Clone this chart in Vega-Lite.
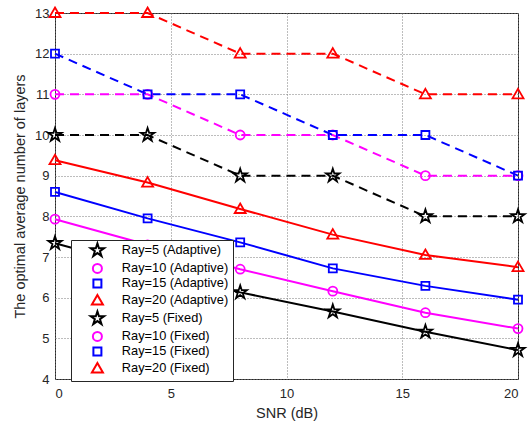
{
  "$schema": "https://vega.github.io/schema/vega-lite/v6.json",
  "width": 463,
  "height": 366,
  "autosize": "none",
  "padding": {"left": 55, "top": 13, "right": 11, "bottom": 47},
  "background": "white",
  "config": {
    "font": "Liberation Sans",
    "view": {"stroke": "#262626", "strokeWidth": 1},
    "axis": {
      "labelFont": "Liberation Sans",
      "titleFont": "Liberation Sans",
      "labelFontSize": 13,
      "titleFontSize": 14.5,
      "titleFontWeight": "normal",
      "labelColor": "#262626",
      "titleColor": "#262626",
      "domain": false,
      "grid": true,
      "gridColor": "#7a7a7a",
      "gridDash": [1, 2],
      "gridWidth": 1,
      "ticks": false
    }
  },
  "data": {
    "values": [
      {"snr": 0, "value": 7.34, "series": "Ray=5 (Adaptive)", "kind": "Adaptive"},
      {"snr": 4, "value": 6.72, "series": "Ray=5 (Adaptive)", "kind": "Adaptive"},
      {"snr": 8, "value": 6.13, "series": "Ray=5 (Adaptive)", "kind": "Adaptive"},
      {"snr": 12, "value": 5.66, "series": "Ray=5 (Adaptive)", "kind": "Adaptive"},
      {"snr": 16, "value": 5.16, "series": "Ray=5 (Adaptive)", "kind": "Adaptive"},
      {"snr": 20, "value": 4.71, "series": "Ray=5 (Adaptive)", "kind": "Adaptive"},
      {"snr": 0, "value": 7.93, "series": "Ray=10 (Adaptive)", "kind": "Adaptive"},
      {"snr": 4, "value": 7.3, "series": "Ray=10 (Adaptive)", "kind": "Adaptive"},
      {"snr": 8, "value": 6.7, "series": "Ray=10 (Adaptive)", "kind": "Adaptive"},
      {"snr": 12, "value": 6.16, "series": "Ray=10 (Adaptive)", "kind": "Adaptive"},
      {"snr": 16, "value": 5.63, "series": "Ray=10 (Adaptive)", "kind": "Adaptive"},
      {"snr": 20, "value": 5.24, "series": "Ray=10 (Adaptive)", "kind": "Adaptive"},
      {"snr": 0, "value": 8.6, "series": "Ray=15 (Adaptive)", "kind": "Adaptive"},
      {"snr": 4, "value": 7.95, "series": "Ray=15 (Adaptive)", "kind": "Adaptive"},
      {"snr": 8, "value": 7.36, "series": "Ray=15 (Adaptive)", "kind": "Adaptive"},
      {"snr": 12, "value": 6.72, "series": "Ray=15 (Adaptive)", "kind": "Adaptive"},
      {"snr": 16, "value": 6.29, "series": "Ray=15 (Adaptive)", "kind": "Adaptive"},
      {"snr": 20, "value": 5.95, "series": "Ray=15 (Adaptive)", "kind": "Adaptive"},
      {"snr": 0, "value": 9.38, "series": "Ray=20 (Adaptive)", "kind": "Adaptive"},
      {"snr": 4, "value": 8.83, "series": "Ray=20 (Adaptive)", "kind": "Adaptive"},
      {"snr": 8, "value": 8.18, "series": "Ray=20 (Adaptive)", "kind": "Adaptive"},
      {"snr": 12, "value": 7.55, "series": "Ray=20 (Adaptive)", "kind": "Adaptive"},
      {"snr": 16, "value": 7.05, "series": "Ray=20 (Adaptive)", "kind": "Adaptive"},
      {"snr": 20, "value": 6.75, "series": "Ray=20 (Adaptive)", "kind": "Adaptive"},
      {"snr": 0, "value": 10, "series": "Ray=5 (Fixed)", "kind": "Fixed"},
      {"snr": 4, "value": 10, "series": "Ray=5 (Fixed)", "kind": "Fixed"},
      {"snr": 8, "value": 9, "series": "Ray=5 (Fixed)", "kind": "Fixed"},
      {"snr": 12, "value": 9, "series": "Ray=5 (Fixed)", "kind": "Fixed"},
      {"snr": 16, "value": 8, "series": "Ray=5 (Fixed)", "kind": "Fixed"},
      {"snr": 20, "value": 8, "series": "Ray=5 (Fixed)", "kind": "Fixed"},
      {"snr": 0, "value": 11, "series": "Ray=10 (Fixed)", "kind": "Fixed"},
      {"snr": 4, "value": 11, "series": "Ray=10 (Fixed)", "kind": "Fixed"},
      {"snr": 8, "value": 10, "series": "Ray=10 (Fixed)", "kind": "Fixed"},
      {"snr": 12, "value": 10, "series": "Ray=10 (Fixed)", "kind": "Fixed"},
      {"snr": 16, "value": 9, "series": "Ray=10 (Fixed)", "kind": "Fixed"},
      {"snr": 20, "value": 9, "series": "Ray=10 (Fixed)", "kind": "Fixed"},
      {"snr": 0, "value": 12, "series": "Ray=15 (Fixed)", "kind": "Fixed"},
      {"snr": 4, "value": 11, "series": "Ray=15 (Fixed)", "kind": "Fixed"},
      {"snr": 8, "value": 11, "series": "Ray=15 (Fixed)", "kind": "Fixed"},
      {"snr": 12, "value": 10, "series": "Ray=15 (Fixed)", "kind": "Fixed"},
      {"snr": 16, "value": 10, "series": "Ray=15 (Fixed)", "kind": "Fixed"},
      {"snr": 20, "value": 9, "series": "Ray=15 (Fixed)", "kind": "Fixed"},
      {"snr": 0, "value": 13, "series": "Ray=20 (Fixed)", "kind": "Fixed"},
      {"snr": 4, "value": 13, "series": "Ray=20 (Fixed)", "kind": "Fixed"},
      {"snr": 8, "value": 12, "series": "Ray=20 (Fixed)", "kind": "Fixed"},
      {"snr": 12, "value": 12, "series": "Ray=20 (Fixed)", "kind": "Fixed"},
      {"snr": 16, "value": 11, "series": "Ray=20 (Fixed)", "kind": "Fixed"},
      {"snr": 20, "value": 11, "series": "Ray=20 (Fixed)", "kind": "Fixed"}
    ]
  },
  "encoding": {
    "x": {
      "field": "snr",
      "type": "quantitative",
      "scale": {"domain": [0, 20], "nice": false},
      "axis": {"values": [0, 5, 10, 15, 20], "title": "SNR (dB)", "labelPadding": 8, "titlePadding": 6}
    },
    "y": {
      "field": "value",
      "type": "quantitative",
      "scale": {"domain": [4, 13], "nice": false, "zero": false},
      "axis": {"values": [4, 5, 6, 7, 8, 9, 10, 11, 12, 13], "title": "The optimal average number of layers", "labelPadding": 6, "titlePadding": 7}
    },
    "color": {
      "field": "series",
      "type": "nominal",
      "scale": {
        "domain": ["Ray=5 (Adaptive)", "Ray=10 (Adaptive)", "Ray=15 (Adaptive)", "Ray=20 (Adaptive)", "Ray=5 (Fixed)", "Ray=10 (Fixed)", "Ray=15 (Fixed)", "Ray=20 (Fixed)"],
        "range": ["#000000", "#FF00FF", "#0000FF", "#FF0000", "#000000", "#FF00FF", "#0000FF", "#FF0000"]
      },
      "legend": {
        "title": null,
        "orient": "none",
        "legendX": 16,
        "legendY": 227,
        "fillColor": "white",
        "strokeColor": "#262626",
        "padding": 4,
        "rowPadding": -2,
        "symbolSize": 100,
        "symbolStrokeWidth": 2,
        "symbolOffset": 16,
        "labelOffset": 18,
        "labelFont": "Liberation Sans",
        "labelFontSize": 12.8,
        "labelColor": "#000000",
        "labelLimit": 300
      }
    }
  },
  "layer": [
    {
      "transform": [{"filter": "datum.kind === 'Adaptive'"}],
      "mark": {"type": "line", "strokeWidth": 2}
    },
    {
      "transform": [{"filter": "datum.kind === 'Fixed'"}],
      "mark": {"type": "line", "strokeWidth": 2, "strokeDash": [9, 6]}
    },
    {
      "mark": {"type": "point", "size": 100, "strokeWidth": 1.8, "opacity": 1, "filled": false},
      "encoding": {
        "shape": {
          "field": "series",
          "type": "nominal",
          "scale": {
            "domain": ["Ray=5 (Adaptive)", "Ray=10 (Adaptive)", "Ray=15 (Adaptive)", "Ray=20 (Adaptive)", "Ray=5 (Fixed)", "Ray=10 (Fixed)", "Ray=15 (Fixed)", "Ray=20 (Fixed)"],
            "range": [
              "M0,-1.4L0.314,-0.433L1.331,-0.433L0.509,0.165L0.823,1.133L0,0.535L-0.823,1.133L-0.509,0.165L-1.331,-0.433L-0.314,-0.433Z",
              "M0.9,0A0.9,0.9 0 1,1 -0.9,0A0.9,0.9 0 1,1 0.9,0Z",
              "M-0.8,-0.8H0.8V0.8H-0.8Z",
              "M0,-1.1L1.1,0.8H-1.1Z",
              "M0,-1.4L0.314,-0.433L1.331,-0.433L0.509,0.165L0.823,1.133L0,0.535L-0.823,1.133L-0.509,0.165L-1.331,-0.433L-0.314,-0.433Z",
              "M0.9,0A0.9,0.9 0 1,1 -0.9,0A0.9,0.9 0 1,1 0.9,0Z",
              "M-0.8,-0.8H0.8V0.8H-0.8Z",
              "M0,-1.1L1.1,0.8H-1.1Z"
            ]
          },
          "legend": null
        }
      }
    }
  ]
}
